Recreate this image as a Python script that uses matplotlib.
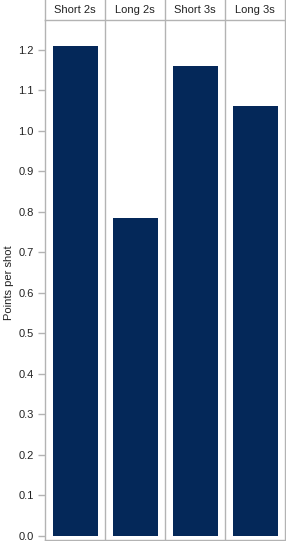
import numpy as np
import matplotlib.pyplot as plt

categories = ['Short 2s', 'Long 2s', 'Short 3s', 'Long 3s']
points_per_shot = [1.21, 0.785, 1.16, 1.06]
y_ticks = [0.0, 0.1, 0.2, 0.3, 0.4, 0.5, 0.6, 0.7, 0.8, 0.9, 1.0, 1.1, 1.2]

W, H = 286, 541
grey = '#b3b3b3'
plt.rcParams['font.family'] = ['Liberation Sans', 'DejaVu Sans']

fig = plt.figure(figsize=(W / 100, H / 100), dpi=100)
left, right = 45 / W, 285 / W
ax = fig.add_axes([left, 1 / H, right - left, 520 / H])
hdr = fig.add_axes([left, 521 / H, right - left, 20 / H])

x = np.arange(len(categories))
ax.bar(x, points_per_shot, width=0.75, color='#042859')
ax.set_xlim(-0.5, len(categories) - 0.5)
ax.set_ylim(-0.01, 1.273)
ax.set_yticks(y_ticks)
ax.set_yticklabels([f'{v:.1f}' for v in y_ticks], fontsize=8, color='#222222')
ax.set_xticks([])
for xd in x[:-1] + 0.5:
    ax.axvline(xd, color=grey, linewidth=1)
ax.spines['top'].set_visible(False)
for side in ['left', 'right', 'bottom']:
    ax.spines[side].set_color(grey)
    ax.spines[side].set_linewidth(1)
ax.tick_params(axis='y', length=5, color=grey, width=1, pad=3)
ax.set_ylabel('Points per shot', fontsize=8, color='#222222')
ax.yaxis.label.set_va('center')
ax.yaxis.set_label_coords(-0.15, 0.494)

# header row with category names
hdr.set_xlim(-0.5, len(categories) - 0.5)
hdr.set_ylim(0, 1)
hdr.set_xticks([])
hdr.set_yticks([])
hdr.spines['top'].set_visible(False)
for side in ['left', 'right', 'bottom']:
    hdr.spines[side].set_color(grey)
    hdr.spines[side].set_linewidth(1)
for xd in x[:-1] + 0.5:
    hdr.axvline(xd, color=grey, linewidth=1)
for xi, name in zip(x, categories):
    hdr.text(xi, 0.5, name, ha='center', va='center', fontsize=8, color='#222222')

fig.savefig('out.png', dpi=100)
